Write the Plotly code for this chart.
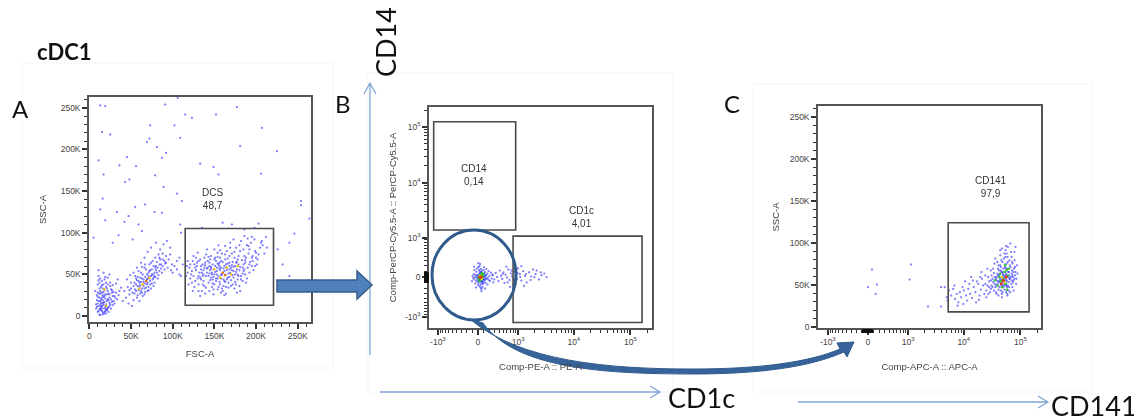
import numpy as np
import plotly.graph_objects as go

# The page places the figure 8 px from the top-left corner (default body margin),
# so the figure is sized to the remaining window area and all screen positions are offset.
SCREEN_W, SCREEN_H = 1142, 419
OFF = 8
W, H = SCREEN_W - OFF, SCREEN_H - OFF
C_BIEX = 408.0  # width parameter of the biexponential (arcsinh) display scale


def biex(v):
    return np.arcsinh(np.asarray(v, dtype=float) / C_BIEX)


# ---------------- Panel A : FSC-A vs SSC-A (values in K) ----------------
a_sparse = [(13,253),(19,252),(91,254),(106,262),(177,251),(115,242),(123,238),(152,242),(15,221),(25,218),
            (73,229),(102,229),(207,226),(72,213),(69,209),(109,214),(81,203),(181,204),(225,198),(45,191),
            (92,196),(11,187),(87,190),(36,181),(56,180),(133,183),(149,179),(17,170),(79,169),(155,170),
            (206,171),(43,161),(48,164),(89,155),(16,141),(105,147),(67,134),(111,138),(254,138),(254,133),
            (13,128),(78,125),(87,124),(33,125),(47,120),(55,131),(19,115),(42,113),(59,110),(246,99),
            (171,110),(203,111),(63,102),(35,97),(109,110),(264,117),(240,88),(226,80),(135,106),(198,106),
            (5,94),(28,88),(52,92),(97,82),(232,62),(240,48),(110,100),(160,112),(186,104)]
a_low = [(12,8),(15,12),(18,5),(10,15),(22,10),(14,20),(20,3),(25,14),(16,25),(11,6),(13,18),(19,9),(24,22),
         (17,13),(21,7),(9,11),(15,28),(27,17),(12,2),(18,31),(23,19),(14,16),(30,24),(16,4),(20,35),(11,12),
         (26,9),(13,27),(19,21),(22,30),(8,14),(17,38),(28,13),(15,42),(24,26),(12,33),(21,18),(33,20),(18,44),
         (14,7),(10,23),(25,36),(16,15),(29,29),(20,40),(13,1),(35,25),(23,10),(11,48),(18,17),(26,32),(15,37),
         (31,22),(19,6),(22,46),(12,27),(38,34),(17,52),(27,28),(14,12),(9,19),(21,8),(16,2),(32,39),(24,16),
         (13,45),(19,11),(36,30),(11,55),(28,24),(7,30),(10,38),(23,5),(30,15),(17,23),
         (14,10),(17,16),(12,22),(20,14),(16,9),(13,30),(19,26),(11,18),(22,20),(15,6),(18,24),(24,12),(10,28),
         (21,33),(13,14),(26,20),(17,29),(12,40),(23,27),(16,19),(9,25),(20,8),(14,35),(27,31),(18,3),(11,43),
         (25,40),(15,22),(29,18),(13,9),(22,38),(8,9),(19,47),(32,28),(16,33),(24,50),(10,5),(34,44),(28,37),(21,26)]
a_mid = [(52,28),(55,32),(58,25),(60,35),(62,30),(64,38),(66,33),(68,42),(70,40),(72,45),(74,48),(76,44),
         (78,52),(80,55),(82,58),(84,54),(86,62),(88,60),(56,38),(59,42),(61,27),(63,45),(65,36),(67,29),
         (69,50),(71,35),(73,55),(75,39),(77,60),(79,47),(81,65),(83,49),(85,68),(57,22),(54,40),(50,33),
         (48,26),(46,35),(44,22),(53,19),(58,47),(62,52),(66,58),(70,30),(74,33),(78,40),(82,45),(90,66),
         (92,72),(94,58),(88,75),(84,70),(76,66),(72,62),(68,56),(64,24),(60,18),(56,45),(63,33),(67,39),
         (69,44),(71,48),(65,41),(61,37),(59,31),(73,42),(75,50),(77,46),(79,58),(87,52),(91,63),(95,68),
         (97,74),(99,62),(42,30),(45,44),(49,49),(53,52),(57,58),(62,64),(66,70),(70,77),(74,82),(80,88),
         (85,80),(89,86),(93,90),(98,55),(102,60),(105,66),(108,50),(47,15),(51,12),(40,18),(105,56),
         (110,48),(112,62),(100,52),(108,70),
         (65,44),(69,38),(62,41),(71,52),(67,47),(73,38),(60,40),(75,56),(58,36),(78,48),(64,50),(70,45),
         (56,30),(80,60),(63,28),(72,54),(68,34),(76,50),(61,46),(84,62),(54,27),(86,57),(59,54),(74,64),
         (66,26),(81,52),(57,43),(88,68),(53,36),(79,70),(63,59),(90,56),(50,40),(83,74),(67,62),(55,48),
         (71,31),(92,64),(48,31),(77,36)]
a_main = [(160,52),(155,48),(165,55),(150,50),(170,58),(158,45),(162,60),(145,55),(175,50),(152,42),(168,47),
          (148,62),(172,65),(140,48),(180,55),(157,38),(163,68),(143,40),(185,62),(135,52),(178,44),(153,58),
          (167,40),(146,46),(174,70),(138,58),(182,48),(156,64),(164,35),(142,66),(188,70),(130,45),(176,38),
          (151,70),(169,52),(134,60),(190,58),(147,35),(159,75),(128,55),(184,42),(161,44),(137,42),(193,65),
          (154,32),(171,75),(125,48),(179,62),(149,56),(166,63),(141,52),(187,50),(133,68),(173,46),(157,55),
          (126,62),(196,72),(144,30),(181,78),(122,50),(163,50),(150,38),(177,56),(139,64),(192,52),(131,38),
          (168,72),(155,62),(185,80),(120,58),(174,33),(146,72),(195,60),(136,48),(162,42),(158,28),(189,85),
          (127,42),(170,43),(152,66),(199,78),(142,58),(183,67),(132,52),(165,78),(148,44),(178,50),(124,66),
          (194,88),(156,41),(171,61),(138,36),(186,56),(153,50),(200,70),(129,60),(167,34),(144,64),(176,82),
          (118,52),(191,75),(160,65),(135,30),(180,36),(149,26),(205,82),(123,40),(173,54),(157,70),(198,92),
          (140,74),(187,64),(164,27),(131,66),(202,68),(147,52),(169,88),(121,45),(184,58),(154,76),(207,90),
          (137,55),(175,60),(161,36),(195,95),(128,70),(166,46),(143,48),(189,45),(117,60),(150,80),(179,72),
          (134,44),(201,62),(158,58),(172,38),(126,35),(192,80),(145,68),(163,74),(139,27),(182,90),(154,45),
          (210,75),(130,76),(168,56),(119,38),(186,96),(151,60),(176,64),(141,80),(197,55),(159,33),(125,72),
          (208,85),(164,58),(136,62),(188,40),(146,57),(173,92),(212,95),(133,24),(155,85),(181,30),
          (153,54),(161,57),(167,51),(156,60),(149,47),(171,55),(159,49),(164,62),(146,59),(176,53),(152,45),
          (168,64),(141,57),(181,59),(158,66),(163,41),(144,51),(173,59),(155,35),(166,69),(137,50),(184,51),
          (150,68),(170,36),(139,61),(187,67),(160,30),(134,56),(178,68),(148,39),(192,62),(131,48),(174,77),
          (143,71),(182,44),(157,79),(127,58),(196,66),(162,25),(136,38),(179,48),(145,43),(191,84),(123,54),
          (169,82),(154,71),(200,76),(129,64),(186,72),(140,34),(175,41),(151,53),(165,44),(158,50),(162,54),
          (156,57),(147,50),(172,49),(168,60),(154,63),(177,65),(144,60),(185,54),(133,46),(121,62),(203,74),
          (190,93),(116,48),(206,88),(124,30),(180,85),(138,70),(195,70),(149,32),(163,84),(131,30),(199,60),
          (213,82),(118,66),(177,28)]
a_dense_yellow = [(157,46),(165,58),(170,50),(64,38),(72,46),(18,32),(20,12),(150,56),(178,60),(60,33)]
a_dense_orange = [(160,52),(163,49),(68,42)]
a_ticks = [0, 50, 100, 150, 200, 250]
a_ticktext = ["0", "50K", "100K", "150K", "200K", "250K"]
a_gate = {"name": "DCS", "pct": "48,7", "x": (115, 221), "y": (13, 105), "label_xy": (148, 141)}

# ---------------- Panel B : PE (CD1c) vs PerCP-Cy5.5 (CD14), raw units ----------------
b_core = [(40,10),(60,-20),(20,30),(80,40),(10,-40),(50,60),(70,0),(30,-10),(90,-30),(0,20),(55,-60),(25,70),
          (100,15),(-20,0),(65,35),(35,-45),(45,90),(-10,-20),(85,-5),(15,50),(75,-75),(120,25),(5,-90),(60,110),
          (-40,40),(95,60),(40,-120),(130,-10),(-30,-60),(20,130),(110,-50),(70,80),(-50,10),(140,45),(30,-150),
          (50,150),(-60,-30),(150,-20),(10,180),(80,-110),(-25,100),(160,70),(45,-180),(-70,60),(170,0),(0,-130),
          (90,130),(-45,-100),(185,-40),(25,200),(115,95),(-80,-10),(200,30),(60,-200),(130,-90),(-15,160),
          (210,-60),(35,240),(-90,30),(225,85),(75,-160),(-55,130),(240,-15),(100,180),(-35,-170),(160,-120),
          (5,260),(250,50),(-100,-60),(140,150),(55,-240),(180,110),(-65,190),(270,-80),(120,-190),
          (30,20),(50,-10),(70,20),(20,-30),(40,40),(60,-40),(10,10),(80,-20),(35,55),(55,25),(25,-5),(45,-25),
          (75,60),(15,-50),(65,-55),(90,10),(5,30),(100,-35),(-5,5),(50,85),(85,45),(40,-70),(110,70),(-15,45),
          (95,-80),(30,100),(120,-30),(0,-60),(70,-100),(130,35)]
b_tail = [(260,40),(290,-30),(320,80),(350,10),(380,-60),(410,120),(440,30),(470,-20),(500,90),(530,-90),
          (560,50),(600,0),(640,140),(680,-40),(720,70),(760,20),(800,-110),(850,100),(900,40),(950,-20),
          (1000,160),(1080,60),(1150,-50),(1250,110),(1350,30),(1450,-80),(1600,90),(1750,20),(1900,140),
          (2100,60),(2400,-30),(2700,40),(3000,70),(3300,10),(2200,120),(1300,-140),(700,-160),(580,190),
          (880,-70),(1150,200),(480,60),(620,-80),(740,120),(820,-30),(980,80),(1100,10),(1400,60),(1700,-40),
          (2000,10),(2600,90)]
b_dense_green = [(40,10),(60,30),(20,-20),(70,-10),(50,50),(30,40),(80,20),(10,0),(45,-40),(90,55),(25,-60),(65,75)]
b_dense_yellow = [(45,15),(55,0),(35,25),(60,-15)]
b_dense_red = [(50,10),(40,5)]
biex_ticks = [-1000, 0, 1000, 10000, 100000]
biex_ticktext = ["-10<sup>3</sup>", "0", "10<sup>3</sup>", "10<sup>4</sup>", "10<sup>5</sup>"]
biex_minor = ([-900, -800, -700, -600, -500, -400, -300, -200, -100, 100, 200, 300, 400, 500, 600, 700, 800, 900]
              + [2000, 3000, 4000, 5000, 6000, 7000, 8000, 9000]
              + [20000, 30000, 40000, 50000, 60000, 70000, 80000, 90000, 200000])
b_gates = [{"name": "CD14", "pct": "0,14", "x": (-1200, 900), "y": (1400, 124000), "label_xy": (-66, 13700)},
           {"name": "CD1c", "pct": "4,01", "x": (800, 160000), "y": (-1300, 1070), "label_xy": (13500, 2420)}]

# ---------------- Panel C : APC (CD141) vs SSC-A ----------------
c_main = [(50000,58),(45000,52),(55000,62),(40000,55),(60000,50),(48000,66),(52000,45),(38000,60),(65000,58),
          (43000,48),(58000,70),(35000,52),(70000,64),(47000,40),(53000,75),(32000,58),(62000,44),(42000,68),
          (75000,56),(56000,54),(30000,46),(67000,72),(46000,60),(37000,42),(72000,48),(51000,82),(28000,55),
          (80000,62),(44000,74),(59000,38),(34000,65),(64000,80),(49000,50),(26000,50),(77000,70),(41000,45),
          (54000,66),(39000,78),(69000,52),(47000,36),(85000,58),(31000,62),(57000,88),(36000,48),(73000,76),
          (43000,56),(61000,60),(29000,42),(66000,42),(50000,70),(24000,52),(82000,66),(45000,44),(55000,92),
          (33000,70),(70000,84),(38000,40),(63000,66),(48000,78),(87000,74),(27000,60),(58000,48),(42000,62),
          (76000,44),(52000,56),(35000,76),(68000,90),(46000,50),(60000,96),(31000,50),(79000,80),(40000,70),
          (56000,42),(44000,86),(73000,60),(25000,44),(62000,54),(37000,58),(84000,52),(49000,64),(66000,100),
          (53000,50),(30000,68),(71000,68),(45000,72),(89000,64),(39000,52),(57000,76),(34000,44),(64000,58),
          (47000,94),(78000,90),(41000,38),(59000,84),(28000,48),(74000,54),(51000,62),(36000,82),(82000,96),
          (55000,58),
          (51000,60),(47000,57),(54000,55),(49000,62),(56000,64),(44000,58),(58000,56),(46000,66),(52000,52),
          (61000,66),(42000,54),(63000,62),(48000,54),(55000,70),(39000,64),(67000,60),(50000,48),(45000,68),
          (57000,50),(53000,72),(38000,56),(69000,56),(43000,64),(60000,78),(35000,60),(72000,62),(48000,42),
          (54000,84),(33000,54),(75000,66),(41000,74),(63000,48),(52000,88),(30000,56),(78000,58),(46000,80),
          (65000,74),(37000,50),(59000,40),(44000,92),(71000,78),(56000,97),(32000,48),(80000,72),(40000,62)]
c_tail = [(22000,50),(20000,45),(18000,52),(16000,42),(15000,48),(13000,40),(12000,46),(11000,38),(10000,44),
          (9000,36),(8500,42),(7500,40),(7000,34),(6500,46),(6000,38),(5500,44),(5000,36),(4600,48),(19000,38),
          (17000,55),(14000,35),(21000,58),(23000,40),(12500,52),(9500,48),(8000,30),(25000,36),(11500,32),
          (14500,56),(18500,33),(6800,50),(10500,55),(16500,30),(24000,62),(20500,66),(13500,60),(26000,70),
          (7800,26),(5200,32),(9800,28),(27000,40),(19500,60)]
c_outliers = [(66,69),(0,48),(150,51),(130,40),(1140,75),(1070,57),(2330,25),(3960,25),(3960,48)]
c_dense_green = [(50000,58),(45000,55),(55000,52),(60000,62),(42000,60),(52000,66),(48000,48),(58000,45),
                 (40000,50),(62000,70),(35000,56),(54000,74),(44000,64),(57000,68)]
c_dense_yellow = [(47000,60),(53000,54)]
c_dense_red = [(50000,56),(46000,52),(56000,60)]
c_gate = {"name": "CD141", "pct": "97,9", "x": (5300, 142000), "y": (18, 124), "label_xy": (30300, 167)}

# ---------------- styling ----------------
DOT = "rgba(50,50,255,0.62)"
FRAME = "#555555"
TICKC = "#333333"
TXT = "#444444"
ARROW_LIGHT = "#7FA6D8"
DARK_BLUE = "#2F5B8C"


def fx_(x):  # screen x -> paper
    return (x - OFF) / W


def fy_(y):  # screen y -> paper
    return 1 - (y - OFF) / H


def px(x, y):
    return f"{fx_(x):.5f},{fy_(y):.5f}"


def dom_x(a, b):
    return [fx_(a), fx_(b)]


def dom_y(top, bottom):
    return [fy_(bottom), fy_(top)]


def xy(pairs):
    xs, ys = zip(*pairs)
    return list(xs), list(ys)


fig = go.Figure()


def add_pts(pairs, xa, ya, color, size=2.5, tx=None, ty=None):
    xs, ys = xy(pairs)
    if tx is not None:
        xs = tx(xs)
    if ty is not None:
        ys = ty(ys)
    fig.add_trace(go.Scattergl(x=xs, y=ys, mode="markers", xaxis=xa, yaxis=ya,
                               marker=dict(size=size, color=color, line=dict(width=0)),
                               hoverinfo="skip", showlegend=False))


# Panel A
add_pts(a_sparse + a_low + a_mid + a_main, "x", "y", DOT)
add_pts(a_dense_yellow, "x", "y", "#F2C200", 2.6)
add_pts(a_dense_orange, "x", "y", "#E8741A", 2.8)

# Panel B (both axes biexponential)
add_pts(b_core + b_tail, "x2", "y2", DOT, 2.4, tx=biex, ty=biex)
add_pts(b_dense_green, "x2", "y2", "#2DBE3A", 2.8, tx=biex, ty=biex)
add_pts(b_dense_yellow, "x2", "y2", "#E9E21C", 3.0, tx=biex, ty=biex)
add_pts(b_dense_red, "x2", "y2", "#E5331B", 3.4, tx=biex, ty=biex)

# Panel C (x biexponential)
add_pts(c_main + c_tail + c_outliers, "x3", "y3", DOT, 2.5, tx=biex)
add_pts(c_dense_green, "x3", "y3", "#3CC43C", 2.6, tx=biex)
add_pts(c_dense_yellow, "x3", "y3", "#E9E21C", 2.8, tx=biex)
add_pts(c_dense_red, "x3", "y3", "#E5331B", 3.0, tx=biex)

tickfont = dict(family="Liberation Sans", size=8.5, color=TXT)
titlefont = dict(family="Liberation Sans", size=9.5, color=TXT)
lin_minor = [v for v in range(0, 261, 10) if v % 50]


def axis_common(**kw):
    d = dict(showgrid=False, zeroline=False, showline=True, mirror=True, linecolor=FRAME, linewidth=1.5,
             ticks="outside", ticklen=5, tickwidth=1.5, tickcolor=TICKC, tickfont=tickfont,
             tickmode="array", automargin=False, fixedrange=True)
    d.update(kw)
    return d


lin_minor_d = dict(tickvals=lin_minor, ticks="outside", ticklen=3, tickwidth=1, tickcolor=TICKC)
biex_minor_d = dict(tickvals=list(biex(biex_minor)), ticks="outside", ticklen=3, tickwidth=1, tickcolor=TICKC)

fig.update_layout(
    width=W, height=H, margin=dict(l=0, r=0, t=0, b=0),
    paper_bgcolor="white", plot_bgcolor="white",
    font=dict(family="Liberation Sans", color=TXT),
    xaxis=axis_common(domain=dom_x(89, 311), range=[-0.5, 266], anchor="y",
                      tickvals=a_ticks, ticktext=a_ticktext, minor=lin_minor_d,
                      title=dict(text="FSC-A", font=titlefont, standoff=10)),
    yaxis=axis_common(domain=dom_y(97, 322), range=[-7.2, 263], anchor="x",
                      tickvals=a_ticks, ticktext=a_ticktext, minor=lin_minor_d,
                      title=dict(text="SSC-A", font=titlefont, standoff=12)),
    xaxis2=axis_common(domain=dom_x(429, 652), range=[-1.99, 7.07], anchor="y2",
                       tickvals=list(biex(biex_ticks)), ticktext=biex_ticktext, minor=biex_minor_d,
                       title=dict(text="Comp-PE-A :: PE-A", font=titlefont, standoff=17)),
    yaxis2=axis_common(domain=dom_y(107, 328), range=[-2.1, 7.02], anchor="x2",
                       tickvals=list(biex(biex_ticks)), ticktext=biex_ticktext, minor=biex_minor_d,
                       title=dict(text="Comp-PerCP-Cy5.5-A :: PerCP-Cy5.5-A", font=titlefont, standoff=7)),
    xaxis3=axis_common(domain=dom_x(818, 1041), range=[-2.03, 7.03], anchor="y3",
                       tickvals=list(biex(biex_ticks)), ticktext=biex_ticktext, minor=biex_minor_d,
                       title=dict(text="Comp-APC-A :: APC-A", font=titlefont, standoff=17)),
    yaxis3=axis_common(domain=dom_y(106, 328), range=[-1.2, 263], anchor="x3",
                       tickvals=a_ticks, ticktext=a_ticktext, minor=lin_minor_d,
                       title=dict(text="SSC-A", font=titlefont, standoff=8)),
)

shapes = []
annotations = []

# faint panel image borders
for (x0, y0, x1, y1) in [(22, 63, 333, 368), (368, 73, 673, 392), (753, 84, 1092, 392)]:
    shapes.append(dict(type="rect", xref="paper", yref="paper", x0=fx_(x0), x1=fx_(x1),
                       y0=fy_(y1), y1=fy_(y0), line=dict(color="#F5F5F5", width=1), layer="below"))

GATE_LINE = dict(color="#4A4A4A", width=1.6)
gate_font = dict(family="Liberation Sans", size=10, color="#333333")


def add_gate(g, xa, ya, fx, fy):
    shapes.append(dict(type="rect", xref=xa, yref=ya, x0=float(fx(g["x"][0])), x1=float(fx(g["x"][1])),
                       y0=float(fy(g["y"][0])), y1=float(fy(g["y"][1])), line=GATE_LINE))
    lx, ly = g["label_xy"]
    annotations.append(dict(xref=xa, yref=ya, x=float(fx(lx)), y=float(fy(ly)),
                            text=f"{g['name']}<br>{g['pct']}", showarrow=False, font=gate_font))


ident = lambda v: v
add_gate(a_gate, "x", "y", ident, ident)
for g in b_gates:
    add_gate(g, "x2", "y2", biex, biex)
add_gate(c_gate, "x3", "y3", biex, ident)

# pile-up of off-scale events on the axes
shapes.append(dict(type="rect", xref="paper", yref="paper", x0=fx_(424), x1=fx_(429),
                   y0=fy_(283), y1=fy_(272), fillcolor="#111", line=dict(width=0)))
shapes.append(dict(type="rect", xref="paper", yref="paper", x0=fx_(862), x1=fx_(873),
                   y0=fy_(333), y1=fy_(329), fillcolor="#111", line=dict(width=0)))

# thin light-blue axis arrows
thin = dict(color=ARROW_LIGHT, width=1.3)
shapes.append(dict(type="path", xref="paper", yref="paper", line=thin,
                   path=f"M{px(370, 355)} L{px(370, 83)} M{px(364, 94)} L{px(370, 83)} L{px(376, 94)}"))
shapes.append(dict(type="path", xref="paper", yref="paper", line=thin,
                   path=f"M{px(380, 392)} L{px(660, 392)} M{px(650, 386)} L{px(660, 392)} L{px(650, 398)}"))
shapes.append(dict(type="path", xref="paper", yref="paper", line=thin,
                   path=f"M{px(798, 402)} L{px(1048, 402)} M{px(1038, 396)} L{px(1048, 402)} L{px(1038, 408)}"))

# block arrow A -> B
shapes.append(dict(type="path", xref="paper", yref="paper", fillcolor="#4F81BD",
                   line=dict(color="#385D8A", width=1.5),
                   path=(f"M{px(277, 280)} L{px(357, 280)} L{px(357, 271)} L{px(372, 285)} "
                         f"L{px(357, 299)} L{px(357, 292)} L{px(277, 292)} Z")))

# circle around the CD14-CD1c- population
shapes.append(dict(type="circle", xref="paper", yref="paper", x0=fx_(432), x1=fx_(516),
                   y0=fy_(320), y1=fy_(230), line=dict(color=DARK_BLUE, width=3)))

# curved arrow B -> C
shapes.append(dict(type="path", xref="paper", yref="paper", fillcolor="#35639A",
                   line=dict(color=DARK_BLUE, width=1),
                   path=(f"M{px(470, 319)} C{px(520, 362)} {px(610, 369)} {px(693, 369)} "
                         f"C{px(760, 369)} {px(810, 362)} {px(840, 349)} "
                         f"L{px(837, 343)} L{px(854, 342)} L{px(847, 357)} L{px(844, 352)} "
                         f"C{px(810, 367)} {px(760, 374)} {px(693, 374)} "
                         f"C{px(600, 374)} {px(515, 368)} {px(483, 323)} Z")))

# panel letters and big labels
big = dict(family="Lato", size=24, color="#111111")
for t, x, y in [("A", 20, 108), ("B", 343, 104), ("C", 732, 104)]:
    annotations.append(dict(xref="paper", yref="paper", x=fx_(x), y=fy_(y), text=t,
                            showarrow=False, font=big, xanchor="center", yanchor="middle"))
annotations.append(dict(xref="paper", yref="paper", x=fx_(64), y=fy_(52), text="<b>cDC1</b>",
                        showarrow=False, font=dict(family="Lato", size=22, color="#111111"),
                        xanchor="center", yanchor="middle"))
marker_font = dict(family="Lato", size=27, color="#111111")
annotations.append(dict(xref="paper", yref="paper", x=fx_(385), y=fy_(42), text="CD14", textangle=-90,
                        showarrow=False, font=marker_font, xanchor="center", yanchor="middle"))
annotations.append(dict(xref="paper", yref="paper", x=fx_(701), y=fy_(397), text="CD1c",
                        showarrow=False, font=marker_font, xanchor="center", yanchor="middle"))
annotations.append(dict(xref="paper", yref="paper", x=fx_(1094), y=fy_(405), text="CD141",
                        showarrow=False, font=marker_font, xanchor="center", yanchor="middle"))

fig.update_layout(shapes=shapes, annotations=annotations)
fig.write_html("out.html")
